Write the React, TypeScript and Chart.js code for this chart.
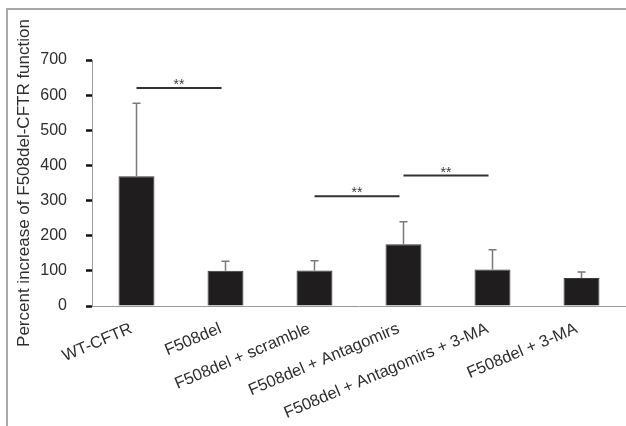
import { useEffect, useRef } from "react";
import { Chart, registerables } from "chart.js";

Chart.register(...registerables);

const categories = [
  "WT-CFTR",
  "F508del",
  "F508del + scramble",
  "F508del + Antagomirs",
  "F508del + Antagomirs + 3-MA",
  "F508del + 3-MA",
];
const meanValues = [369, 100, 101, 176, 104, 80];
const errorUpper = [577, 127, 129, 240, 160, 97];
const yTickValues = [0, 100, 200, 300, 400, 500, 600, 700];
const sigFrom = [0, 2, 3];
const sigTo = [1, 3, 4];
const sigLevel = [620, 312, 371];
const sigLabels = ["**", "**", "**"];

const FONT = "'Liberation Sans', Arial, sans-serif";

const overlayPlugin = {
  id: "overlay",
  afterDatasetsDraw(chart: any) {
    const ctx = chart.ctx;
    const xs = chart.scales.x;
    const ys = chart.scales.y;
    const meta = chart.getDatasetMeta(0);
    ctx.save();
    ctx.strokeStyle = "#7a7a7a";
    ctx.lineWidth = 1.5;
    meta.data.forEach((bar: any, i: number) => {
      const cx = bar.x;
      const top = bar.y;
      const ey = ys.getPixelForValue(errorUpper[i]);
      ctx.beginPath();
      ctx.moveTo(cx, top);
      ctx.lineTo(cx, ey);
      ctx.moveTo(cx - 4, ey);
      ctx.lineTo(cx + 4, ey);
      ctx.stroke();
    });
    for (let k = 0; k < sigFrom.length; k++) {
      const x1 = xs.getPixelForValue(sigFrom[k]);
      const x2 = xs.getPixelForValue(sigTo[k]) - 4;
      const yy = ys.getPixelForValue(sigLevel[k]);
      ctx.strokeStyle = "#333333";
      ctx.lineWidth = 2;
      ctx.beginPath();
      ctx.moveTo(x1, yy);
      ctx.lineTo(x2, yy);
      ctx.stroke();
      ctx.fillStyle = "#3c3c3c";
      ctx.font = `14px ${FONT}`;
      ctx.textAlign = "center";
      ctx.textBaseline = "alphabetic";
      ctx.fillText(sigLabels[k], (x1 + x2) / 2, yy + 1);
    }
    ctx.restore();
  },
};

export default function App() {
  const canvasRef = useRef<HTMLCanvasElement | null>(null);

  useEffect(() => {
    const canvas = canvasRef.current;
    if (!canvas) return;
    const chart = new Chart(canvas, {
      type: "bar",
      data: {
        labels: categories,
        datasets: [
          {
            data: meanValues,
            backgroundColor: "#1f1d1e",
            borderColor: "#3a3a3a",
            borderWidth: 1,
            barPercentage: 0.404,
            categoryPercentage: 1,
          },
        ],
      },
      options: {
        animation: false,
        responsive: false,
        maintainAspectRatio: false,
        layout: { padding: { left: 10, top: 60, right: 0, bottom: 0 } },
        plugins: {
          legend: { display: false },
          tooltip: { enabled: false },
        },
        scales: {
          x: {
            grid: { display: false },
            border: { display: true, color: "#9a9a9a", width: 1 },
            ticks: {
              font: { family: FONT, size: 16.5 },
              color: "#2e2e2e",
              minRotation: 23,
              maxRotation: 23,
              autoSkip: false,
              padding: 5,
              labelOffset: -5,
            },
            afterFit(scale: any) {
              scale.height = 120;
            },
          },
          y: {
            min: 0,
            max: 700,
            afterBuildTicks(scale: any) {
              scale.ticks = yTickValues.map((v) => ({ value: v }));
            },
            grid: {
              display: true,
              drawOnChartArea: false,
              drawTicks: true,
              tickLength: 6,
              tickWidth: 2.5,
              tickColor: "#111111",
            },
            border: { display: true, color: "#9a9a9a", width: 1 },
            ticks: {
              font: { family: FONT, size: 16 },
              color: "#2e2e2e",
              padding: 19,
            },
            title: {
              display: true,
              text: "Percent increase of F508del-CFTR function",
              font: { family: FONT, size: 17 },
              color: "#2e2e2e",
              padding: { top: 4, bottom: 4 },
            },
            afterFit(scale: any) {
              scale.width = 82;
            },
          },
        },
      },
      plugins: [overlayPlugin],
    });
    return () => chart.destroy();
  }, []);

  return (
    <div
      style={{
        position: "fixed",
        left: 0,
        top: 0,
        width: 626,
        height: 426,
        background: "#ffffff",
      }}
    >
      <div
        style={{
          position: "absolute",
          left: 6,
          top: 8,
          right: 0,
          bottom: 0,
          borderLeft: "2px solid #a8a8a8",
          borderTop: "2px solid #a8a8a8",
        }}
      />
      <canvas
        ref={canvasRef}
        width={626}
        height={426}
        style={{ position: "absolute", left: 0, top: 0, width: 626, height: 426 }}
      />
    </div>
  );
}
